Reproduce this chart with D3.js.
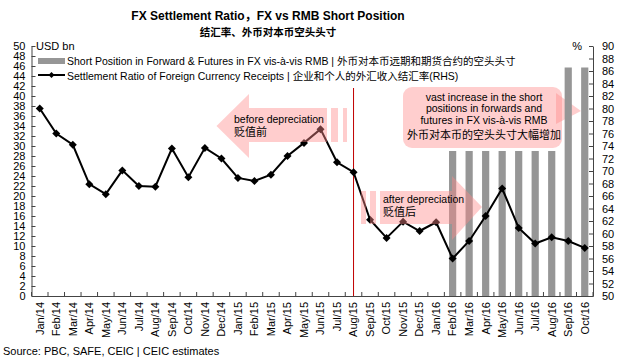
<!DOCTYPE html>
<html><head><meta charset="utf-8">
<script src="https://cdn.jsdelivr.net/npm/d3@7"></script>
<style>
body{margin:0;background:#fff;}
text{font-family:"Liberation Sans","Noto Sans CJK SC",sans-serif;fill:#000;}
</style></head>
<body><svg id="c" width="625" height="360"></svg>
<script>
const months = ["Jan/14","Feb/14","Mar/14","Apr/14","May/14","Jun/14","Jul/14","Aug/14","Sep/14","Oct/14","Nov/14","Dec/14",
"Jan/15","Feb/15","Mar/15","Apr/15","May/15","Jun/15","Jul/15","Aug/15","Sep/15","Oct/15","Nov/15","Dec/15",
"Jan/16","Feb/16","Mar/16","Apr/16","May/16","Jun/16","Jul/16","Aug/16","Sep/16","Oct/16"];
const shortPosition = [null,null,null,null,null,null,null,null,null,null,null,null,
null,null,null,null,null,null,null,null,null,null,null,null,
null,29.0,29.0,29.0,29.0,29.0,29.0,29.0,45.7,45.7];
const settlementRatio = [80.0,76.0,74.2,67.9,66.3,70.1,67.6,67.5,73.6,69.0,73.7,72.0,
68.9,68.4,69.4,72.4,74.5,76.7,71.4,69.8,62.2,59.3,61.9,60.4,
61.8,56.0,58.8,62.8,67.2,60.9,58.4,59.4,58.8,57.7];
const leftTicks = d3.range(0,51,2);
const rightTicks = d3.range(50,91,2);
const titleLines = ["FX Settlement Ratio，FX vs RMB Short Position","结汇率、外币对本币空头头寸"];
const legendLabels = ["Short Position in Forward & Futures in FX vis-à-vis RMB | 外币对本币远期和期货合约的空头头寸",
"Settlement Ratio of Foreign Currency Receipts | 企业和个人的外汇收入结汇率(RHS)"];

const svg = d3.select("#c");
const L=31.5, R=593, T=46, B=296;
const x = d3.scaleBand().domain(months).range([L,R]).padding(0);
const yL = d3.scaleLinear().domain([0,50]).range([B,T]);
const yR = d3.scaleLinear().domain([50,90]).range([B,T]);
const bw = x.bandwidth();
const pink = "#ff8a8a", pinkOp = 0.42;
const axisCol = "#444";

// title
svg.append("text").attr("x",268).attr("y",20).attr("text-anchor","middle")
  .style("font-weight","bold").style("font-size","12px").text(titleLines[0]);
svg.append("text").attr("x",268).attr("y",36).attr("text-anchor","middle")
  .style("font-weight","bold").style("font-size","10.5px").text(titleLines[1]);

// callout box (behind bars)
const cg = svg.append("g");
cg.append("path").attr("d","M556,93 L581,111 L556,124 Z").attr("fill",pink).attr("opacity",pinkOp);
cg.append("rect").attr("x",403).attr("y",87).attr("width",159).attr("height",61).attr("rx",9)
  .attr("fill",pink).attr("opacity",pinkOp);

// bars
svg.append("g").selectAll("rect").data(months.map((m,i)=>({m,v:shortPosition[i]})).filter(d=>d.v!=null))
 .join("rect")
 .attr("x",d=>x(d.m)+bw/2-3.6).attr("width",7.2)
 .attr("y",d=>yL(d.v)).attr("height",d=>yL(0)-yL(d.v))
 .attr("fill","#969696");

// callout text
const ct = svg.append("g").attr("text-anchor","middle").style("font-size","10.5px");
["vast increase in the short","positions in forwards and","futures in FX vis-à-vis RMB"].forEach((t,i)=>{
  ct.append("text").attr("x",484).attr("y",101+i*11.3).text(t);
});
ct.append("text").attr("x",484).attr("y",139).style("font-size","11px").text("外币对本币的空头头寸大幅增加");

// axes
const gl = svg.append("g").attr("transform",`translate(${L},0)`)
 .call(d3.axisLeft(yL).tickValues(leftTicks).tickSize(-4).tickSizeOuter(0).tickPadding(6));
const gr = svg.append("g").attr("transform",`translate(${R},0)`)
 .call(d3.axisRight(yR).tickValues(rightTicks).tickSize(-4).tickSizeOuter(0).tickPadding(9));
const gx = svg.append("g").attr("transform",`translate(0,${B})`)
 .call(d3.axisBottom(x).tickSize(0).tickSizeOuter(0));
gx.selectAll("text").attr("transform","rotate(-90)").attr("text-anchor","end")
 .attr("x",-6).attr("y",0).attr("dy","0.35em");
gx.selectAll(".tick").append("line").attr("x1",-bw/2).attr("x2",-bw/2).attr("y1",0).attr("y2",-4).attr("stroke",axisCol);
gx.append("line").attr("x1",R-L+L).attr("x2",R).attr("y1",0).attr("y2",-4).attr("stroke",axisCol);
[gl,gr,gx].forEach(g=>{
  g.selectAll("text").style("font-size","11px").style("font-family",'"Liberation Sans",sans-serif').attr("fill","#000");
  g.selectAll("line,path").attr("stroke",axisCol);
});

// unit labels
svg.append("text").attr("x",36).attr("y",50).style("font-size","11px").text("USD bn");
svg.append("text").attr("x",582).attr("y",50).attr("text-anchor","end").style("font-size","11px").text("%");

// red divider line
svg.append("line").attr("x1",x("Aug/15")+bw/2).attr("x2",x("Aug/15")+bw/2).attr("y1",88).attr("y2",B)
 .attr("stroke","#c00000").attr("stroke-width",1);

// line series
const pts = months.map((m,i)=>[x(m)+bw/2, yR(settlementRatio[i])]);
svg.append("path").attr("d",d3.line()(pts)).attr("fill","none").attr("stroke","#000").attr("stroke-width",2);
const diamond = "M0,-4L4,0L0,4L-4,0Z";
svg.append("g").selectAll("path").data(pts).join("path")
 .attr("transform",d=>`translate(${d[0]},${d[1]})`).attr("d",diamond).attr("fill","#000");

// arrows (semi-transparent, on top)
const ag = svg.append("g").attr("fill",pink).attr("opacity",pinkOp);
ag.append("path").attr("d","M216.5,126 L249,94 L249,108 L327,108 L327,142 L249,142 L249,158 Z");
ag.append("rect").attr("x",331).attr("y",108).attr("width",7).attr("height",34);
ag.append("rect").attr("x",343).attr("y",108).attr("width",4).attr("height",34);
ag.append("rect").attr("x",361).attr("y",191).attr("width",5).attr("height",33);
ag.append("rect").attr("x",370).attr("y",191).attr("width",6).attr("height",33);
ag.append("path").attr("d","M380,191 L452,191 L452,176 L482,207 L452,240 L452,224 L380,224 Z");

svg.append("text").attr("x",234).attr("y",123).style("font-size","10.5px").text("before depreciation");
svg.append("text").attr("x",234).attr("y",136).style("font-size","11px").text("贬值前");
svg.append("text").attr("x",383).attr("y",203).style("font-size","10.5px").text("after depreciation");
svg.append("text").attr("x",383).attr("y",216).style("font-size","11px").text("贬值后");

// legend
svg.append("rect").attr("x",38).attr("y",58).attr("width",27).attr("height",6).attr("fill","#969696");
svg.append("line").attr("x1",38).attr("x2",65).attr("y1",75).attr("y2",75).attr("stroke","#000").attr("stroke-width",2);
svg.append("path").attr("transform","translate(51.5,75)").attr("d","M0,-3L3,0L0,3L-3,0Z").attr("fill","#000");
svg.append("text").attr("x",67).attr("y",65).style("font-size","10.5px").text(legendLabels[0]);
svg.append("text").attr("x",67).attr("y",80).style("font-size","10.5px").text(legendLabels[1]);

// source
svg.append("text").attr("x",3).attr("y",355).style("font-size","11px").text("Source: PBC, SAFE, CEIC | CEIC estimates");
</script></body></html>
